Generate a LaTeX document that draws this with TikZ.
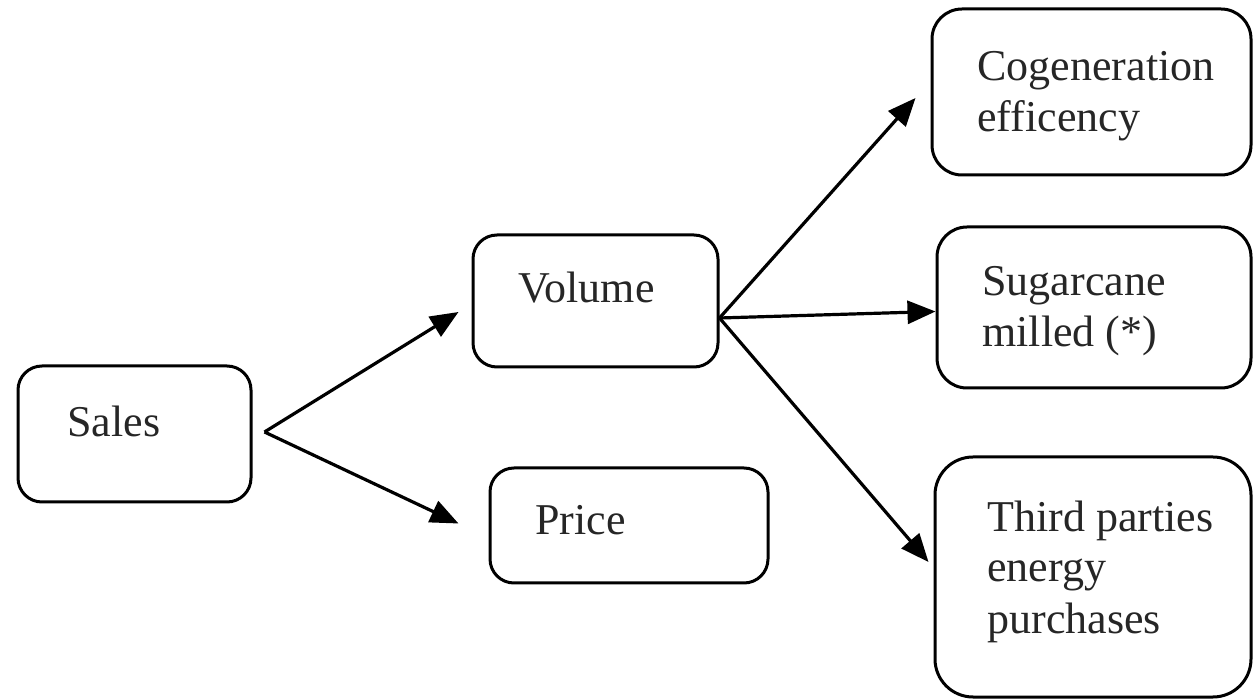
\documentclass[tikz,border=0pt]{standalone}
\usepackage{fontspec}
\setmainfont{Liberation Serif}
\usetikzlibrary{arrows.meta}

\tikzset{
  box/.style={draw=black, line width=1.5pt, rounded corners=12pt, inner sep=0pt},
  label text/.style={anchor=base west, inner sep=0pt, align=left, text=black!85,
    font=\fontsize{22}{25.5}\selectfont},
  link/.style={line width=1.6pt, -{Triangle[length=14pt,width=11.5pt]}}
}

\begin{document}
\begin{tikzpicture}[x=0.5pt, y=-0.5pt]
  \useasboundingbox (0,0) rectangle (1253,699);

  % boxes (centre, size in picture units)
  \node[box, minimum width=116.5pt, minimum height=68pt]  (sales)  at (134.5,434) {};
  \node[box, minimum width=122.5pt, minimum height=66pt]  (volume) at (595.5,301) {};
  \node[box, minimum width=139pt,   minimum height=57.5pt] (price)  at (629,525.5) {};
  \node[box, minimum width=159.5pt, minimum height=83pt, rounded corners=15pt]  (cogen) at (1091.5,92) {};
  \node[box, minimum width=157pt,   minimum height=80.5pt, rounded corners=15pt] (sugar) at (1094,307.5) {};
  \node[box, minimum width=158pt,   minimum height=120pt, rounded corners=19pt] (third) at (1093,577) {};

  % texts (multi-line ones are placed by the baseline of their last line)
  \node[label text] (sales-t)  at (67,437)  {Sales};
  \node[label text] (volume-t) at (518,303) {Volume};
  \node[label text] (price-t)  at (535,535) {Price};
  \node[label text] (cogen-t)  at (977,132) {Cogeneration\\efficency};
  \node[label text] (sugar-t)  at (982,347) {Sugarcane\\milled (*)};
  \node[label text] (third-t)  at (987,633) {Third parties\\energy\\purchases};

  % connectors
  \draw[link] ([shift={(12,-2)}]sales.east) -- ([shift={(-13,11)}]volume.west);
  \draw[link] ([shift={(12,-2)}]sales.east) -- ([shift={(-30,-2)}]price.west);
  \draw[link] ([shift={(0,17)}]volume.east) -- ([shift={(-15,6)}]cogen.west);
  \draw[link] ([shift={(0,17)}]volume.east) -- ([shift={(0,4)}]sugar.west);
  \draw[link] ([shift={(0,17)}]volume.east) -- ([shift={(-5,-15)}]third.west);
\end{tikzpicture}
\end{document}
